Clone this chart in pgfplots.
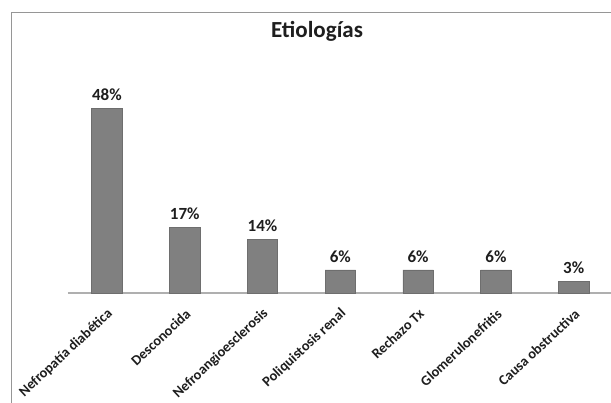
\documentclass[border=0pt]{standalone}
\usepackage{fontspec}
\setmainfont{Carlito}
\usepackage{pgfplots}
\pgfplotsset{compat=1.18}
\definecolor{bargray}{RGB}{128,128,128}
\definecolor{baredge}{RGB}{110,110,110}
\definecolor{axisgray}{RGB}{175,175,175}
\definecolor{framegray}{RGB}{150,150,150}
\definecolor{txt}{RGB}{30,30,30}
\begin{document}
\begin{tikzpicture}
\useasboundingbox (0,0) rectangle (611pt,403pt);
\fill[white] (0,0) rectangle (611pt,403pt);
\draw[framegray, line width=1pt] (11pt,-20pt) -- (11pt,390pt) -- (640pt,390pt);
\node[anchor=base, text=txt, font=\fontsize{23}{26}\selectfont\bfseries] at (317pt,365pt) {Etiologías};
\begin{axis}[
  at={(68pt,110pt)}, anchor=south west,
  scale only axis, width=544.6pt, height=192.5pt,
  xmin=-0.5, xmax=6.5, ymin=0, ymax=50,
  /pgf/number format/assume math mode=true,
  axis y line=none, axis x line=bottom,
  x axis line style={-, draw=axisgray, line width=1.2pt},
  xtick=data, xtick style={draw=none}, ytick=\empty,
  xticklabels={Nefropatía diabética, Desconocida, Nefroangioesclerosis, Poliquistosis renal, Rechazo Tx, Glomerulonefritis, Causa obstructiva},
  xticklabel style={font=\fontsize{14.3}{16}\selectfont\bfseries, text=txt, xshift=5pt, yshift=-13pt, rotate=43, anchor=east, inner sep=2pt},
  ybar, bar width=30.5pt, bar shift=0pt,
  nodes near coords={\pgfmathprintnumber{\pgfplotspointmeta}\%},
  nodes near coords style={font=\fontsize{17}{20}\selectfont\bfseries, text=txt, yshift=4pt},
  clip=false,
]
\addplot[fill=bargray, draw=baredge, line width=0.6pt] coordinates {(0,48) (1,17) (2,14) (3,6) (4,6) (5,6) (6,3)};
\end{axis}
\end{tikzpicture}
\end{document}
